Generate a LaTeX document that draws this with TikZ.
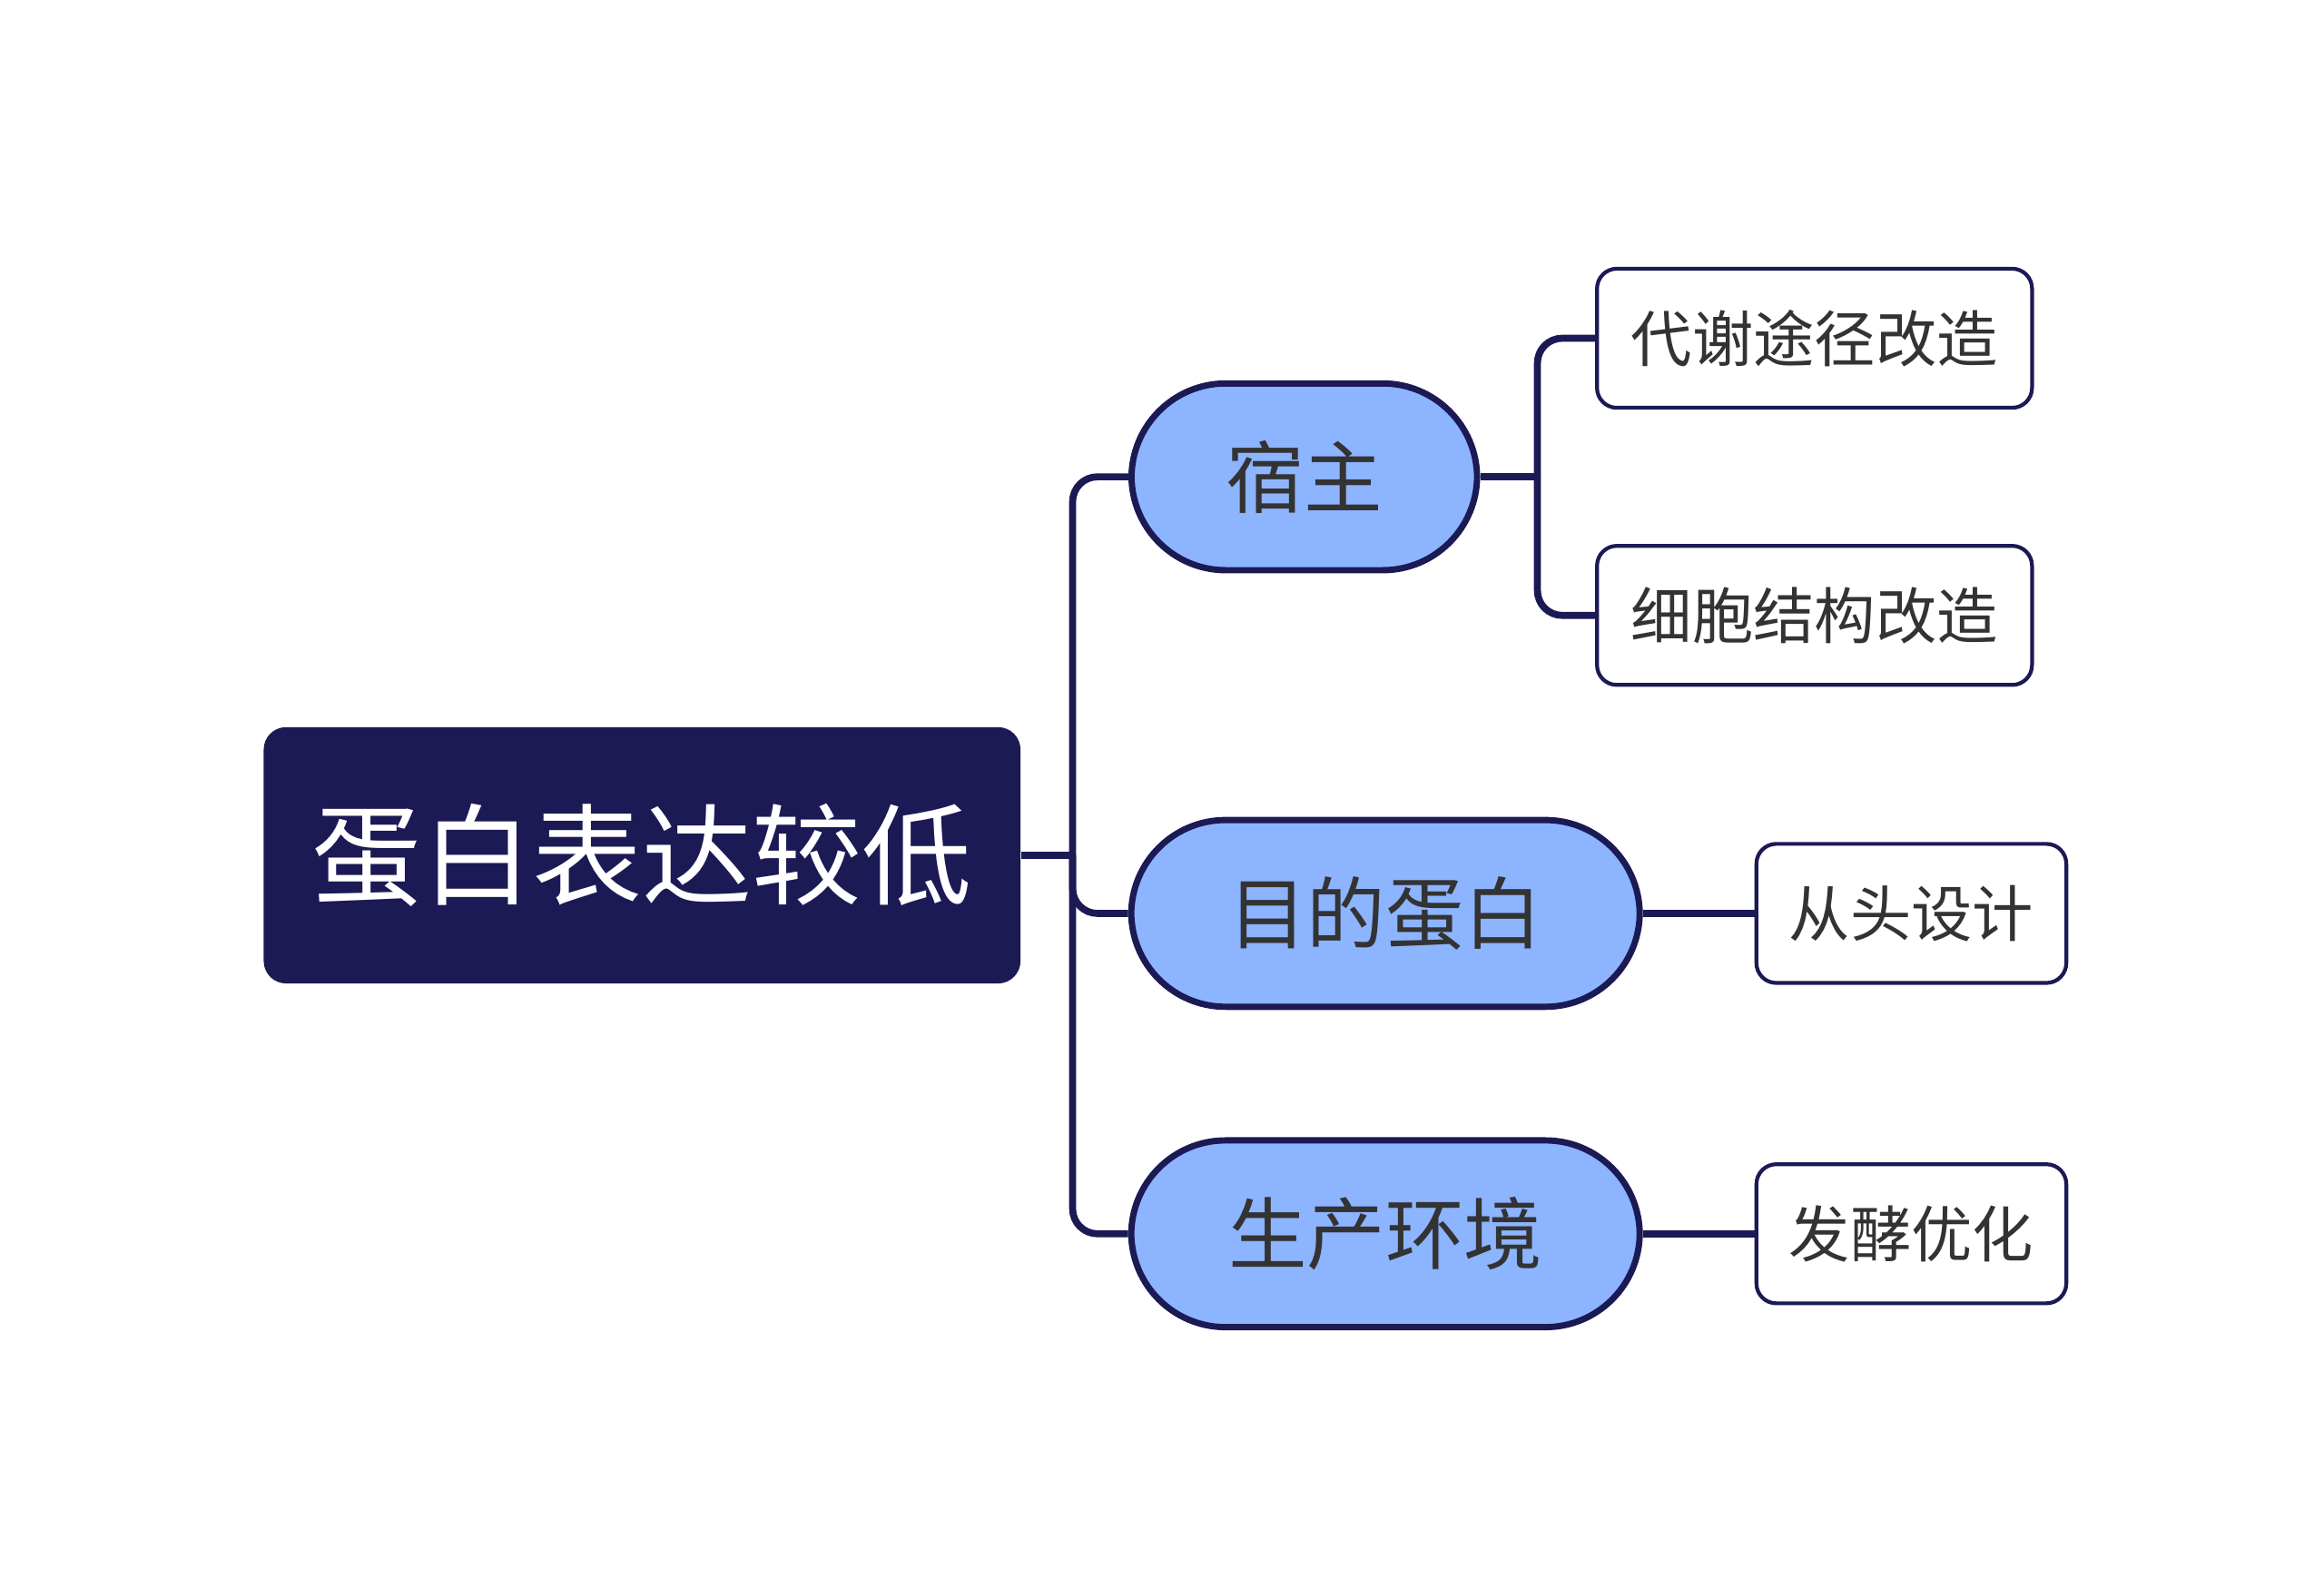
\documentclass[tikz,border=0pt]{standalone}
\usepackage{fontspec}
\newfontfamily\cjk{Noto Sans CJK SC}
\definecolor{navy}{HTML}{1B1A55}
\definecolor{pill}{HTML}{8DB4FF}
\definecolor{txt}{HTML}{333333}
\begin{document}
\begin{tikzpicture}[x=0.3mm,y=-0.3mm,
 rootbox/.style={fill=navy,rounded corners=4.5mm,minimum width=152.4mm,minimum height=51.6mm,inner sep=0pt,text=white,font=\cjk\fontsize{63}{63}\selectfont},
 midbox/.style={draw=navy,line width=3.6pt,fill=pill,rounded corners=19mm,minimum height=37.6mm,inner sep=0pt,text=txt,font=\cjk\fontsize{45}{45}\selectfont},
 leafbox/.style={draw=navy,line width=2.2pt,fill=white,rounded corners=4mm,minimum height=28mm,inner sep=0pt,text=txt,font=\cjk\fontsize{35}{35}\selectfont},
 conn/.style={draw=navy,line width=4pt,rounded corners=5mm}]
\useasboundingbox (0,0) rectangle (1560,1066);
\node[rootbox] (r) at (431,574) {蛋白表达较低};
\node[midbox,minimum width=69.6mm] (a) at (875.5,320) {宿主};
\node[midbox,minimum width=102.4mm] (b) at (930,613) {目的蛋白};
\node[midbox,minimum width=102.4mm] (c) at (930,828) {生产环境};
\node[leafbox,minimum width=87.6mm] (a1) at (1218,227) {代谢途径改造};
\node[leafbox,minimum width=62.4mm] (b1) at (1283,613) {从头设计};
\node[leafbox,minimum width=87.6mm] (a2) at (1218,413) {细胞结构改造};
\node[leafbox,minimum width=62.4mm] (c1) at (1283,828) {发酵优化};
\coordinate (t) at (720,574);
\coordinate (u) at (1032,320);
\draw[conn] (r.east) -- (t);
\draw[conn] (t) |- (a.west);
\draw[conn] (t) |- (b.west);
\draw[conn] (t) |- (c.west);
\draw[conn] (a.east) -- (u);
\draw[conn] (u) |- (a1.west);
\draw[conn] (u) |- (a2.west);
\draw[conn] (b.east) -- (b1.west);
\draw[conn] (c.east) -- (c1.west);
\end{tikzpicture}
\end{document}
